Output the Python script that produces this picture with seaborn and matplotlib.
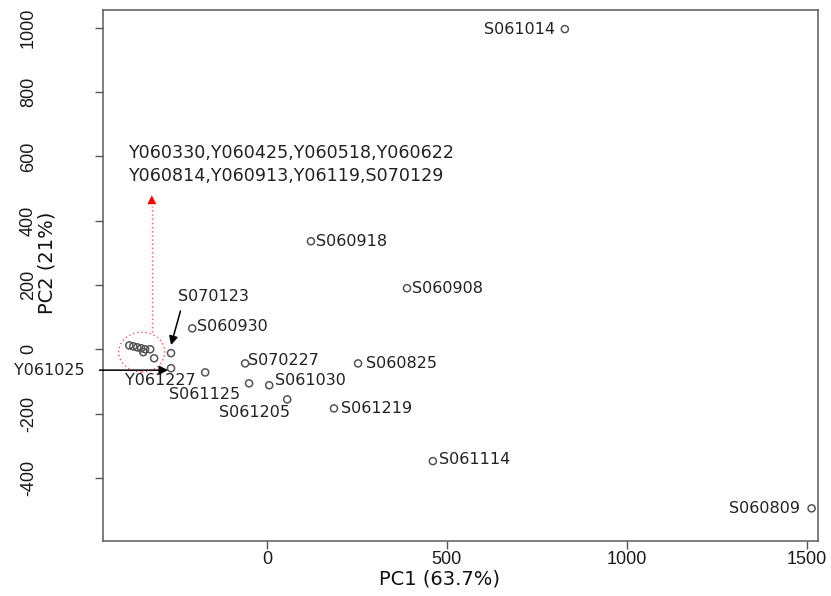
import matplotlib
matplotlib.use("Agg")
import matplotlib.pyplot as plt
import seaborn as sns
import pandas as pd
import numpy as np
from matplotlib.patches import Ellipse

# PCA scores: tight group of samples near the origin (labelled together)
cluster_names = ["Y060330", "Y060425", "Y060518", "Y060622",
                 "Y060814", "Y060913", "Y06119", "S070129"]
cluster_pc1 = [-383, -372, -361, -350, -339, -325, -344, -314]
cluster_pc2 = [12, 9, 6, 3, 0, 0, -9, -28]

# PCA scores: individually labelled samples
sample_names = ["S070123", "Y061025", "Y061227", "S060930", "S070227",
                "S061125", "S061030", "S061205", "S060825", "S061219",
                "S060918", "S060908", "S061114", "S061014", "S060809"]
sample_pc1 = [-267, -267, -172, -208, -61, -50, 6, 56, 253, 186,
              122, 389, 461, 828, 1514]
sample_pc2 = [-12, -59, -72, 65, -44, -106, -112, -156, -44, -184,
              336, 190, -348, 996, -495]

x_ticks = [0, 500, 1000, 1500]
y_ticks = [-400, -200, 0, 200, 400, 600, 800, 1000]
x_title = "PC1 (63.7%)"
y_title = "PC2 (21%)"

df = pd.DataFrame({
    "name": cluster_names + sample_names,
    "PC1": cluster_pc1 + sample_pc1,
    "PC2": cluster_pc2 + sample_pc2,
})

sns.set_theme(style="white")
plt.rcParams["font.family"] = ["DejaVu Sans"]
plt.rcParams["axes.unicode_minus"] = False

fig = plt.figure(figsize=(8.31, 5.96), dpi=100)
ax = fig.add_axes([0.124, 0.092, 0.860, 0.891])

sns.scatterplot(data=df, x="PC1", y="PC2", ax=ax, marker="o",
                facecolors="none", edgecolor="#555555", linewidth=1.1,
                s=26, legend=False, zorder=3)

ax.set_xlim(-456, 1531)
ax.set_ylim(-597, 1055)
ax.set_xticks(x_ticks)
ax.set_yticks(y_ticks)

tick_font = ["Liberation Sans Narrow", "Liberation Sans", "DejaVu Sans"]
for lab in ax.get_xticklabels() + ax.get_yticklabels():
    lab.set_family(tick_font)
    lab.set_fontsize(13)
    lab.set_color("#1a1a1a")
ax.tick_params(axis="both", direction="out", length=5.5, width=1,
               color="#555555", bottom=True, left=True)
ax.tick_params(axis="x", pad=1.5)
ax.tick_params(axis="y", labelrotation=90, pad=42)
for lab in ax.get_yticklabels():
    lab.set_va("center")

for sp in ax.spines.values():
    sp.set_visible(True)
    sp.set_color("#5a5a5a")
    sp.set_linewidth(1.1)

ax.set_xlabel(x_title, fontsize=14, color="#111111")
ax.set_ylabel(y_title, fontsize=14, color="#111111")
ax.xaxis.set_label_coords(0.471, -0.072)
ax.xaxis.label.set_va("center")
ax.yaxis.set_label_coords(-0.078, 0.525)
ax.yaxis.label.set_va("center")

# labels next to individual points: (dx, dy) in pixels, alignment
label_style = {
    "Y061227": (-10, -8, "right"),
    "S060930": (5, 2, "left"),
    "S070227": (3, 3, "left"),
    "S061125": (-9, -11, "right"),
    "S061030": (6, 5, "left"),
    "S061205": (3, -13, "right"),
    "S060825": (8, 0, "left"),
    "S061219": (7, 0, "left"),
    "S060918": (5, 0, "left"),
    "S060908": (5, 0, "left"),
    "S061114": (6, 2, "left"),
    "S061014": (-10, 0, "right"),
    "S060809": (-12, 0, "right"),
}
px2pt = 0.72
for name, x, y in zip(sample_names, sample_pc1, sample_pc2):
    if name not in label_style:
        continue
    dx, dy, ha = label_style[name]
    ax.annotate(name, (x, y), xytext=(dx * px2pt, dy * px2pt),
                textcoords="offset points", ha=ha, va="center",
                fontsize=11.5, color="#222222")

# arrows for the two crowded points
idx = {n: i for i, n in enumerate(sample_names)}
x25, y25 = sample_pc1[idx["Y061025"]], sample_pc2[idx["Y061025"]]
ax.annotate("Y061025", xy=(x25 - 8, y25 - 6), xytext=(-506, y25 - 6),
            ha="right", va="center", fontsize=11.5, color="#222222",
            annotation_clip=False,
            arrowprops=dict(arrowstyle="-|>", color="black", lw=1.1,
                            mutation_scale=13, shrinkA=8, shrinkB=0))

x23, y23 = sample_pc1[idx["S070123"]], sample_pc2[idx["S070123"]]
ax.annotate("S070123", xy=(x23, y23 + 25), xytext=(-247, 165),
            ha="left", va="center", fontsize=11.5, color="#222222",
            arrowprops=dict(arrowstyle="-|>", color="black", lw=1.1,
                            mutation_scale=13, shrinkA=3, shrinkB=0,
                            relpos=(0.06, 0.0)))

# dotted red ring around the tight group, with a pointer to its label
cx, cy = np.mean(cluster_pc1), np.mean(cluster_pc2) - 8
ring_w, ring_h = 128, 124
ax.add_patch(Ellipse((cx, cy), ring_w, ring_h, fill=False,
                     edgecolor="#ff5555", linestyle=(0, (1, 2)), lw=1))
arrow_x = cx + 28
ax.plot([arrow_x, arrow_x], [cy + ring_h / 2, 446], color="#ff5555",
        linestyle=(0, (1, 2)), lw=1)
ax.annotate("", xy=(arrow_x, 479), xytext=(arrow_x, 441),
            arrowprops=dict(arrowstyle="-|>", color="red", lw=0.01,
                            mutation_scale=16, shrinkA=0, shrinkB=0))

group_lines = [",".join(cluster_names[:4]), ",".join(cluster_names[4:])]
ax.text(-386, 610, group_lines[0], ha="left", va="center",
        fontsize=12.6, color="#222222")
ax.text(-386, 538, group_lines[1], ha="left", va="center",
        fontsize=12.6, color="#222222")

fig.savefig("out.png", dpi=100)
